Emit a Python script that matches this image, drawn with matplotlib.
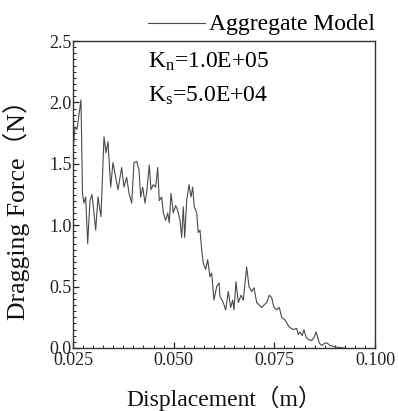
import matplotlib
matplotlib.use("Agg")
import matplotlib.pyplot as plt
from matplotlib.lines import Line2D
from matplotlib.ticker import MultipleLocator

# ── data ────────────────────────────────────────────────────────────────────
displacement = [
    0.02512, 0.02550, 0.02599, 0.02649, 0.02699, 0.02736, 0.02773, 0.02815,
    0.02865, 0.02922, 0.02972, 0.03021, 0.03064, 0.03121, 0.03195, 0.03220,
    0.03270, 0.03319, 0.03369, 0.03436, 0.03493, 0.03560, 0.03617, 0.03709,
    0.03766, 0.03833, 0.03891, 0.03958, 0.04015, 0.04082, 0.04139, 0.04181,
    0.04231, 0.04288, 0.04338, 0.04395, 0.04437, 0.04494, 0.04554, 0.04603,
    0.04643, 0.04703, 0.04742, 0.04802, 0.04852, 0.04891, 0.04934, 0.04991,
    0.05050, 0.05100, 0.05157, 0.05199, 0.05239, 0.05274, 0.05323, 0.05381,
    0.05430, 0.05472, 0.05512, 0.05572, 0.05611, 0.05654, 0.05696, 0.05736,
    0.05795, 0.05845, 0.05902, 0.05944, 0.06001, 0.06068, 0.06126, 0.06150,
    0.06232, 0.06292, 0.06356, 0.06416, 0.06466, 0.06498, 0.06548, 0.06605,
    0.06672, 0.06729, 0.06813, 0.06871, 0.06938, 0.06995, 0.07062, 0.07126,
    0.07186, 0.07243, 0.07310, 0.07375, 0.07434, 0.07491, 0.07558, 0.07623,
    0.07683, 0.07764, 0.07871, 0.07971, 0.08055, 0.08095, 0.08137, 0.08194,
    0.08236, 0.08286, 0.08343, 0.08427, 0.08492, 0.08534, 0.08576, 0.08616,
    0.08676, 0.08758, 0.08815, 0.08882, 0.09006, 0.09130, 0.09254,
]
force = [
    1.65, 1.80, 1.78, 1.90, 2.02, 1.26, 1.18, 1.23,
    0.85, 1.20, 1.25, 1.10, 0.96, 1.23, 1.07, 1.29,
    1.72, 1.59, 1.68, 1.31, 1.51, 1.39, 1.29, 1.47,
    1.31, 1.39, 1.26, 1.18, 1.51, 1.52, 1.45, 1.23,
    1.31, 1.18, 1.29, 1.49, 1.29, 1.33, 1.31, 1.47,
    1.20, 1.23, 1.10, 1.04, 1.10, 1.02, 1.26, 1.10,
    1.16, 1.12, 1.04, 0.90, 1.15, 0.90, 1.20, 1.33,
    1.23, 1.31, 1.15, 1.10, 0.94, 0.96, 0.80, 0.69,
    0.64, 0.72, 0.58, 0.61, 0.39, 0.50, 0.53, 0.42,
    0.37, 0.31, 0.46, 0.33, 0.39, 0.31, 0.54, 0.37,
    0.43, 0.39, 0.66, 0.50, 0.46, 0.49, 0.37, 0.35,
    0.33, 0.35, 0.37, 0.43, 0.41, 0.33, 0.31, 0.33,
    0.25, 0.23, 0.17, 0.15, 0.16, 0.11, 0.13, 0.10,
    0.15, 0.09, 0.07, 0.06, 0.09, 0.13, 0.09, 0.04,
    0.02, 0.04, 0.04, 0.02, 0.01, 0.003, 0.0,
]

xticks = [0.025, 0.050, 0.075, 0.100]
xtick_labels = ["0.025", "0.050", "0.075", "0.100"]
yticks = [0.0, 0.5, 1.0, 1.5, 2.0, 2.5]
ytick_labels = ["0.0", "0.5", "1.0", "1.5", "2.0", "2.5"]

series_label = "Aggregate Model"
kn_text = r"K$_\mathregular{n}$=1.0E+05"
ks_text = r"K$_\mathregular{s}$=5.0E+04"

# ── style ───────────────────────────────────────────────────────────────────
plt.rcParams["font.family"] = ["Liberation Serif", "Noto Sans CJK JP", "DejaVu Serif"]
plt.rcParams["mathtext.fontset"] = "custom"
plt.rcParams["mathtext.rm"] = "Liberation Serif"
plt.rcParams["mathtext.it"] = "Liberation Serif"

fig = plt.figure(figsize=(3.98, 4.11), dpi=100)
ax = fig.add_axes([0.1834, 0.1533, 0.7588, 0.7469])

line_color = "#4a4a4a"
ax.plot(displacement, force, color=line_color, linewidth=0.8)

ax.set_xlim(0.025, 0.100)
ax.set_ylim(0.0, 2.5)
ax.set_xticks(xticks)
ax.set_xticklabels(xtick_labels)
ax.set_yticks(yticks)
ax.set_yticklabels(ytick_labels)
ax.xaxis.set_minor_locator(MultipleLocator(0.0025))
ax.yaxis.set_minor_locator(MultipleLocator(0.05))

ax.tick_params(which="both", direction="in", top=False, right=False,
               labelsize=13, colors="#222222")
ax.tick_params(axis="x", which="major", length=4, width=0.9, pad=3)
ax.tick_params(axis="y", which="major", length=4, width=0.9, pad=1)
ax.tick_params(which="minor", length=2.5, width=0.7)
for sp in ax.spines.values():
    sp.set_color("#333333")
    sp.set_linewidth(1.0)

ax.set_xlabel("Displacement（m）", fontsize=17, color="#111111")
ax.set_ylabel("Dragging Force（N）", fontsize=18.5, color="#111111")
ax.xaxis.set_label_coords(0.5, -0.122)
ax.yaxis.set_label_coords(-0.142, 0.47)

# annotations inside the axes
ax.text(0.248, 0.912, kn_text, transform=ax.transAxes, fontsize=17,
        va="baseline", ha="left")
ax.text(0.248, 0.801, ks_text, transform=ax.transAxes, fontsize=17,
        va="baseline", ha="left")

# legend line + label above the axes
fig.add_artist(Line2D([148 / 398, 205 / 398], [0.944, 0.944],
                      color=line_color, linewidth=0.8))
fig.text(209 / 398, 0.941, series_label, fontsize=17, va="center", ha="left")

fig.savefig("out.png", dpi=100)
